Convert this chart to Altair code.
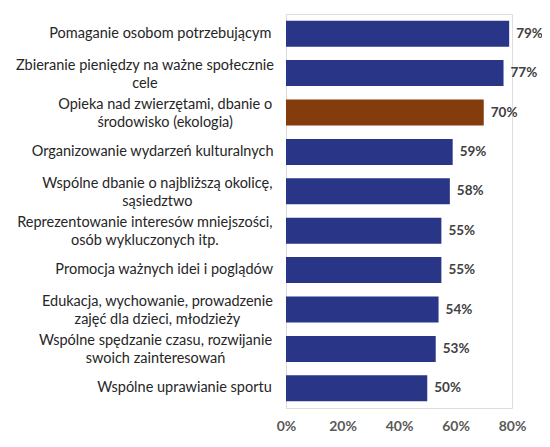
import json
import altair as alt
import pandas as pd

categories = [
    "Pomaganie osobom potrzebującym",
    "Zbieranie pieniędzy na ważne społecznie\ncele",
    "Opieka nad zwierzętami, dbanie o\nśrodowisko (ekologia)",
    "Organizowanie wydarzeń kulturalnych",
    "Wspólne dbanie o najbliższą okolicę,\nsąsiedztwo",
    "Reprezentowanie interesów mniejszości,\nosób wykluczonych itp.",
    "Promocja ważnych idei i poglądów",
    "Edukacja, wychowanie, prowadzenie\nzajęć dla dzieci, młodzieży",
    "Wspólne spędzanie czasu, rozwijanie\nswoich zainteresowań",
    "Wspólne uprawianie sportu",
]
values = [79, 77, 70, 59, 58, 55, 55, 54, 53, 50]
highlight = [False, False, True, False, False, False, False, False, False, False]
x_ticks = [0, 20, 40, 60, 80]

# label block half-widths at 15px (style, used for centred multi-line labels)
label_half_width = [115, 131, 110, 123, 118, 131, 111, 118, 120, 90]

NAVY = "#293587"
BROWN = "#843C0C"
FONT = "Lato"
LABEL_SIZE = 14.5
LINE_H = 18

df = pd.DataFrame({
    "rank": list(range(len(categories))),
    "value": values,
    "hl": ["hl" if h else "base" for h in highlight],
})
df["label"] = df["value"].astype(str) + "%"

lines = [c.split("\n") for c in categories]
label_expr = json.dumps(lines, ensure_ascii=False) + "[datum.value]"
pad_expr = json.dumps([round(15 + w * LABEL_SIZE / 15, 1) for w in label_half_width]) + "[datum.value]"
off_expr = json.dumps([-(len(l) - 1) * LINE_H / 2 + 1.5 * (len(l) - 1) for l in lines]) + "[datum.value]"

y_enc = alt.Y(
    "rank:O",
    title=None,
    scale=alt.Scale(paddingInner=0.34, paddingOuter=0.17),
    axis=alt.Axis(
        labelExpr=label_expr,
        labelAlign="center",
        labelBaseline="middle",
        labelPadding=alt.ExprRef(pad_expr),
        labelOffset=alt.ExprRef(off_expr),
        labelFont=FONT,
        labelFontSize=LABEL_SIZE,
        labelColor="#262626",
        labelLineHeight=LINE_H,
        labelLimit=400,
        labelOverlap=False,
        labelBound=False,
        ticks=False,
        domainColor="#D9D9D9",
        domainWidth=1,
        grid=False,
    ),
)

x_enc = alt.X(
    "value:Q",
    title=None,
    scale=alt.Scale(domain=[0, 80], nice=False),
    axis=alt.Axis(
        values=x_ticks,
        labelExpr="datum.value + '%'",
        labelFont=FONT,
        labelFontSize=14,
        labelFontWeight="bold",
        labelColor="#595959",
        labelBaseline="alphabetic",
        labelPadding=22,
        labelFlush=False,
        labelOverlap=False,
        ticks=False,
        tickSize=0,
        domain=False,
        grid=False,
    ),
)

bars = alt.Chart(df).mark_bar().encode(
    y=y_enc,
    x=x_enc,
    color=alt.Color("hl:N", scale=alt.Scale(domain=["base", "hl"], range=[NAVY, BROWN]), legend=None),
)

texts = alt.Chart(df).mark_text(
    align="left", baseline="middle", dx=7, font=FONT, fontSize=13.5, fontWeight="bold", color="#404040"
).encode(y=alt.Y("rank:O"), x=alt.X("value:Q"), text="label:N")

chart = (
    alt.layer(bars, texts)
    .properties(
        width=226,
        height=394,
        autosize=alt.AutoSizeParams(type="none"),
        padding={"left": 278, "top": 6, "right": 30, "bottom": 24},
    )
    .configure_view(stroke=None)
    .configure(background="white")
)

chart.save("out.html", embed_options={"renderer": "svg", "actions": False})
